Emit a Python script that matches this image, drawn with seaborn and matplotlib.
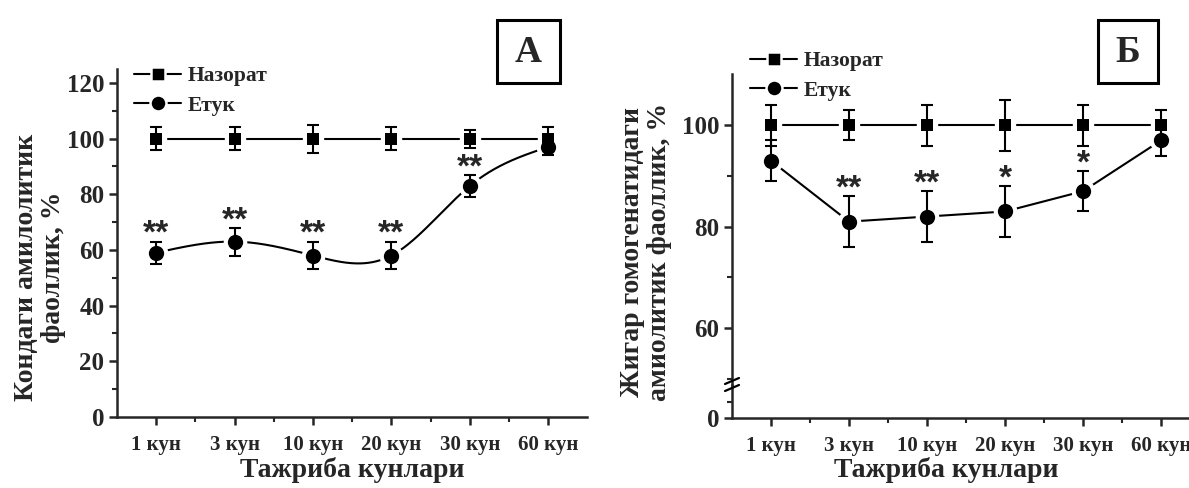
import numpy as np
import matplotlib
matplotlib.use("Agg")
import matplotlib.pyplot as plt
import seaborn as sns
from matplotlib.lines import Line2D
from matplotlib.patches import Rectangle

# ---------------- data ----------------
days = ["1 кун", "3 кун", "10 кун", "20 кун", "30 кун", "60 кун"]

a_control = [100, 100, 100, 100, 100, 100]
a_control_err = [4, 4.2, 5, 4.2, 3.2, 4]
a_etuk = [59, 63, 58, 58, 83, 97]
a_etuk_err = [4, 5, 5, 5, 4, 3]
a_stars = ["**", "**", "**", "**", "**", ""]

b_control = [100, 100, 100, 100, 100, 100]
b_control_err = [4, 3, 4, 5, 4, 3]
b_etuk = [93, 81, 82, 83, 87, 97]
b_etuk_err = [4, 5, 5, 5, 4, 3]
b_stars = ["", "**", "**", "*", "*", ""]

legend_labels = ["Назорат", "Етук"]

# ---------------- style ----------------
sns.set_theme(style="ticks")
plt.rcParams["font.family"] = ["Liberation Serif", "DejaVu Serif"]
plt.rcParams["font.weight"] = "bold"
plt.rcParams["axes.linewidth"] = 1.8
plt.rcParams["xtick.major.width"] = 1.8
plt.rcParams["ytick.major.width"] = 1.8
plt.rcParams["xtick.minor.width"] = 1.5
plt.rcParams["ytick.minor.width"] = 1.5
plt.rcParams["xtick.major.size"] = 6
plt.rcParams["ytick.major.size"] = 6
plt.rcParams["xtick.minor.size"] = 3.5
plt.rcParams["ytick.minor.size"] = 3.5
plt.rcParams["xtick.direction"] = "out"
plt.rcParams["ytick.direction"] = "out"

W, H = 1189, 488
fig = plt.figure(figsize=(W / 100, H / 100), dpi=100)
fig.patch.set_facecolor("white")


def fx(px):
    return px / W


def fy(py):
    return 1 - py / H


x = np.arange(1, len(days) + 1)

LW = 1.5
SQ = 9
CI = 11
TICK_X = 15
TICK_Y = 18
LEG = 15.5


def natural_spline(xp, yp, n=300):
    xp = np.asarray(xp, float)
    yp = np.asarray(yp, float)
    m = len(xp)
    h = np.diff(xp)
    A = np.zeros((m, m))
    b = np.zeros(m)
    A[0, 0] = 1
    A[-1, -1] = 1
    for i in range(1, m - 1):
        A[i, i - 1] = h[i - 1]
        A[i, i] = 2 * (h[i - 1] + h[i])
        A[i, i + 1] = h[i]
        b[i] = 3 * ((yp[i + 1] - yp[i]) / h[i] - (yp[i] - yp[i - 1]) / h[i - 1])
    c = np.linalg.solve(A, b)
    bb = (yp[1:] - yp[:-1]) / h - h * (2 * c[:-1] + c[1:]) / 3
    d = (c[1:] - c[:-1]) / (3 * h)
    xs = np.linspace(xp[0], xp[-1], n)
    idx = np.clip(np.searchsorted(xp, xs, side="right") - 1, 0, m - 2)
    t = xs - xp[idx]
    ys = yp[idx] + bb[idx] * t + c[idx] * t ** 2 + d[idx] * t ** 3
    return xs, ys


def draw_series(ax, xs, ys, err, marker, ms, smooth=False):
    if smooth:
        sx, sy = natural_spline(xs, ys)
        ax.plot(sx, sy, color="black", lw=LW, zorder=2)
    else:
        sns.lineplot(x=xs, y=ys, ax=ax, color="black", lw=LW, zorder=2,
                     estimator=None, sort=False)
    return (xs, ys, err, marker, ms)


def draw_marks(ax, series):
    # white halos (gap in line around markers)
    for xs, ys, err, marker, ms in series:
        ax.plot(xs, ys, ls="none", marker=marker, ms=ms + 5, mfc="white",
                mec="white", zorder=3)
    for xs, ys, err, marker, ms in series:
        ax.errorbar(xs, ys, yerr=err, fmt="none", ecolor="black",
                    elinewidth=LW, capsize=4.5, capthick=LW, zorder=4)
    for xs, ys, err, marker, ms in series:
        ax.plot(xs, ys, ls="none", marker=marker, ms=ms, mfc="black",
                mec="black", mew=0, zorder=5)


def draw_stars(ax, xs, ys, err, stars):
    for xi, yi, ei, s in zip(xs, ys, err, stars):
        if s:
            ax.annotate(s, xy=(xi, yi + ei), xytext=(0, -1.0),
                        textcoords="offset points", ha="center",
                        va="baseline", fontsize=24, fontweight="bold",
                        family="Liberation Sans", zorder=6)


def legend(ax, px, py):
    handles = [
        Line2D([], [], color="black", lw=LW, marker="s", ms=9.5, mfc="black",
               mec="white", mew=1.8),
        Line2D([], [], color="black", lw=LW, marker="o", ms=11.5, mfc="black",
               mec="white", mew=1.8),
    ]
    ax.legend(handles, legend_labels, loc="upper left",
              bbox_to_anchor=(fx(px), fy(py)), bbox_transform=fig.transFigure,
              frameon=False, handlelength=2.2, handletextpad=0.3,
              labelspacing=0.45, borderpad=0, borderaxespad=0,
              prop={"family": "Liberation Serif", "weight": "bold",
                    "size": LEG})


def panel_box(x0, y0, x1, y1, letter):
    fig.patches.append(Rectangle((fx(x0), fy(y1)), fx(x1) - fx(x0),
                                 fy(y0) - fy(y1), transform=fig.transFigure,
                                 fill=False, ec="black", lw=2.2))
    fig.text(fx((x0 + x1) / 2), fy((y0 + y1) / 2 + 1), letter, ha="center",
             va="center", fontsize=27, fontweight="bold")


# ---------------- panel A ----------------
ax1 = fig.add_axes([fx(117), fy(417), (470.4) / W, 348 / H])
sA1 = draw_series(ax1, x, a_control, a_control_err, "s", SQ)
sA2 = draw_series(ax1, x, a_etuk, a_etuk_err, "o", CI, smooth=True)
draw_marks(ax1, [sA1, sA2])
draw_stars(ax1, x, a_etuk, a_etuk_err, a_stars)
ax1.set_xlim(0.5, 6.5)
ax1.set_ylim(0, 125)
ax1.set_yticks([0, 20, 40, 60, 80, 100, 120])
ax1.set_yticks(np.arange(10, 125, 20), minor=True)
ax1.set_xticks(x)
ax1.set_xticks(x[:-1] + 0.5, minor=True)
ax1.set_xticklabels(days, fontsize=TICK_X, fontweight="bold")
ax1.tick_params(axis="y", labelsize=TICK_Y, pad=3)
ax1.tick_params(axis="x", pad=7)
for s in ["top", "right"]:
    ax1.spines[s].set_visible(False)
ax1.set_xlabel("")
ax1.set_ylabel("")
legend(ax1, 134, 66)

fig.text(fx(40), fy(267), "Кондаги амилолитик\nфаоллик, %", rotation=90,
         ha="center", va="center", fontsize=20, fontweight="bold",
         linespacing=1.1, multialignment="center")
fig.text(fx(352), fy(470), "Тажриба кунлари", ha="center", va="center",
         fontsize=20, fontweight="bold")
panel_box(497, 20, 560, 83, "А")

# ---------------- panel Б (broken axis) ----------------
axw = 468 / W
ax2 = fig.add_axes([fx(732), fy(385), axw, 311 / H])
ax3 = fig.add_axes([fx(732), fy(418), axw, 33 / H], sharex=ax2)

sB1 = draw_series(ax2, x, b_control, b_control_err, "s", SQ)
sB2 = draw_series(ax2, x, b_etuk, b_etuk_err, "o", CI)
draw_marks(ax2, [sB1, sB2])
draw_stars(ax2, x, b_etuk, b_etuk_err, b_stars)

ax2.set_xlim(0.5, 6.5)
ax2.set_ylim(48.8, 110.1)
ax2.set_yticks([60, 80, 100])
ax2.set_yticks([50, 70, 90], minor=True)
ax2.tick_params(axis="y", labelsize=TICK_Y, pad=3)
ax2.tick_params(axis="x", which="both", bottom=False, labelbottom=False)
for s in ["top", "right", "bottom"]:
    ax2.spines[s].set_visible(False)
ax2.patch.set_alpha(0)
legend(ax2, 750, 51)

ax3.set_ylim(0, 20.6)
ax3.set_yticks([0])
ax3.set_yticks([10], minor=True)
ax3.set_xticks(x)
ax3.set_xticks(x[:-1] + 0.5, minor=True)
ax3.set_xticklabels(days, fontsize=TICK_X, fontweight="bold")
ax3.tick_params(axis="y", labelsize=TICK_Y, pad=3)
ax3.tick_params(axis="x", pad=7)
for s in ["top", "right"]:
    ax3.spines[s].set_visible(False)
ax3.patch.set_alpha(0)

# break marks
for yy in (381, 388):
    fig.add_artist(Line2D([fx(725), fx(739)], [fy(yy + 3), fy(yy - 3)],
                          transform=fig.transFigure, color="black", lw=1.6))

fig.text(fx(646), fy(252), "Жигар гомогенатидаги\nамиолитик фаоллик, %",
         rotation=90, ha="center", va="center", fontsize=20,
         fontweight="bold", linespacing=1.1, multialignment="center")
fig.text(fx(946), fy(470), "Тажриба кунлари", ha="center", va="center",
         fontsize=20, fontweight="bold")
panel_box(1098, 20, 1158, 83, "Б")

fig.savefig("out.png", dpi=100, facecolor="white")
